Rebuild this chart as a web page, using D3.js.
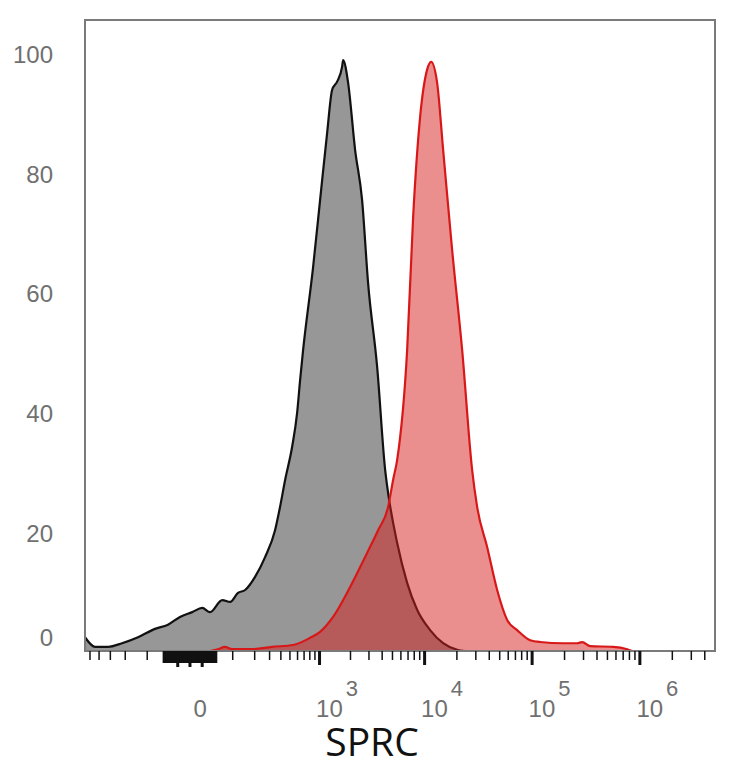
<!DOCTYPE html>
<html>
<head>
<meta charset="utf-8">
<script src="https://cdn.jsdelivr.net/npm/d3@7"></script>
<style>
  body { margin: 0; background: #fff; }
  .tick text { font-family: "Liberation Sans", Arial, sans-serif; }
</style>
</head>
<body>
<svg id="chart" width="734" height="768"></svg>
<script>
// histogram of the unstained / isotype control (grey)
const grayX = [-557, -437, -314, -216, -134, -73, -39, -15, 4, 21, 37, 68, 93, 122, 153, 205, 270, 350, 397, 450,
  533, 601, 645, 692, 873, 1024, 1201, 1343, 1503, 1680, 1717, 1919, 2238, 2610, 2976, 3625, 4313, 4602, 5590,
  6940, 8603, 11380, 15050, 20330, 24120];
const grayY = [2.3, 0.7, 0.7, 1.3, 2.3, 3.7, 4.4, 5.7, 6.5, 7.2, 6.5, 8.5, 8.2, 9.7, 10.2, 12.4, 15.7, 20.2, 24.1, 28.6,
  34.1, 39.8, 45.3, 50.3, 64.2, 75.4, 86.6, 93.8, 95.2, 97.7, 98.8, 95.0, 83.8, 75.4, 61.5, 47.5, 30.3, 26.4, 18.1,
  11.4, 6.9, 3.5, 1.3, 0.2, 0];

// SPRC stained sample (red)
const redX = [37, 56, 76, 99, 188, 324, 546, 815, 1024, 1373, 2006, 2913, 3702, 4602, 5124, 5590, 6940, 7900, 9180,
  10670, 11630, 13230, 15050, 18240, 22630, 28010, 31180, 38630, 47860, 59270, 73400, 96960, 119900, 196200,
  264800, 294700, 349600, 571500, 770500, 857000];
const redY = [0, 0.3, 0.7, 0.3, 0.3, 0.7, 1.0, 2.2, 3.2, 5.7, 10.7, 16.4, 20.2, 24.1, 28.6, 31.9, 50.3, 72.6, 89.3,
  97.2, 98.5, 95.0, 83.8, 67.1, 50.3, 30.3, 24.1, 17.4, 10.2, 5.2, 3.5, 1.8, 1.5, 1.3, 1.3, 1.5, 0.8, 0.7, 0.3, 0];

const yTicks = [0, 20, 40, 60, 80, 100];
const xLabelValues = [0, 1e3, 1e4, 1e5, 1e6];
const xLabelExp = ["", "3", "4", "5", "6"];
const xTitle = "SPRC";

const svg = d3.select("#chart");
const plotL = 85, plotR = 715, plotT = 20, plotB = 651;

const x = d3.scaleSymlog().constant(67).domain([-557, 5.03e6]).range([plotL, plotR]);
const y = d3.scaleLinear().domain([0, 105.5]).range([plotB, plotT]);

svg.append("defs").append("clipPath").attr("id", "plot")
  .append("rect").attr("x", plotL).attr("y", plotT).attr("width", plotR - plotL).attr("height", plotB - plotT);

const area = d3.area().curve(d3.curveMonotoneX).x(d => x(d[0])).y0(y(0)).y1(d => y(d[1]));
const line = d3.line().curve(d3.curveMonotoneX).x(d => x(d[0])).y(d => y(d[1]));

const gray = d3.zip(grayX, grayY);
const red = d3.zip(redX, redY);

const plot = svg.append("g").attr("clip-path", "url(#plot)");
plot.append("path").datum(gray).attr("d", area).attr("fill", "#979797");
plot.append("path").datum(gray).attr("d", line)
  .attr("fill", "none").attr("stroke", "#111").attr("stroke-width", 2.2).attr("stroke-linejoin", "round");
plot.append("path").datum(red).attr("d", area).attr("fill", "rgba(215,30,30,0.5)");
plot.append("path").datum(red).attr("d", line)
  .attr("fill", "none").attr("stroke", "#d81818").attr("stroke-width", 2.2).attr("stroke-linejoin", "round");

// frame
svg.append("rect")
  .attr("x", plotL).attr("y", plotT).attr("width", plotR - plotL).attr("height", plotB - plotT)
  .attr("fill", "none").attr("stroke", "#7a7a7a").attr("stroke-width", 2);

// x ticks (biexponential style)
const minorTicks = [-500, -400, -300, -200, -100];
[100, 1000, 10000, 100000].forEach(d => {
  for (let k = (d === 100 ? 1 : 2); k <= 9; k++) minorTicks.push(k * d);
});
minorTicks.push(2e6, 3e6, 4e6);
const zeroTicks = d3.range(-50, 51, 2);

function tickRow(values, size, width) {
  const g = svg.append("g").attr("transform", `translate(0,${plotB})`)
    .call(d3.axisBottom(x).tickValues(values).tickSize(size).tickFormat(""));
  g.select(".domain").remove();
  g.selectAll("line").attr("stroke", "#111").attr("stroke-width", width);
  return g;
}
tickRow(minorTicks, 9, 1.5);
tickRow(zeroTicks, 12, 2.5);
tickRow([-20, 0, 20], 16, 3);
tickRow(xLabelValues.slice(1), 14, 3);

// x labels
const labels = svg.append("g")
  .attr("font-family", "'Liberation Sans', Arial, sans-serif")
  .attr("fill", "#707070");
xLabelValues.forEach((v, i) => {
  const t = labels.append("text")
    .attr("x", i === 0 ? x(v) + 4 : x(v) - 3)
    .attr("y", 717)
    .attr("font-size", 24)
    .text(i === 0 ? "0" : "10");
  if (xLabelExp[i]) {
    t.append("tspan").attr("dx", 3).attr("dy", -21).attr("font-size", 22).text(xLabelExp[i]);
  }
});

svg.append("text")
  .attr("x", 372).attr("y", 756)
  .attr("text-anchor", "middle")
  .attr("font-family", "'Open Sans', 'Noto Sans', sans-serif")
  .attr("font-size", 39)
  .attr("fill", "#111")
  .text(xTitle);

// y axis labels only
const ya = svg.append("g").attr("transform", `translate(${plotL},0)`)
  .call(d3.axisLeft(y).tickValues(yTicks).tickSize(0).tickPadding(32));
ya.select(".domain").remove();
ya.selectAll("text")
  .attr("font-size", 24)
  .attr("fill", "#707070")
  .attr("y", d => d === 0 ? -13 : 2);
</script>
</body>
</html>
